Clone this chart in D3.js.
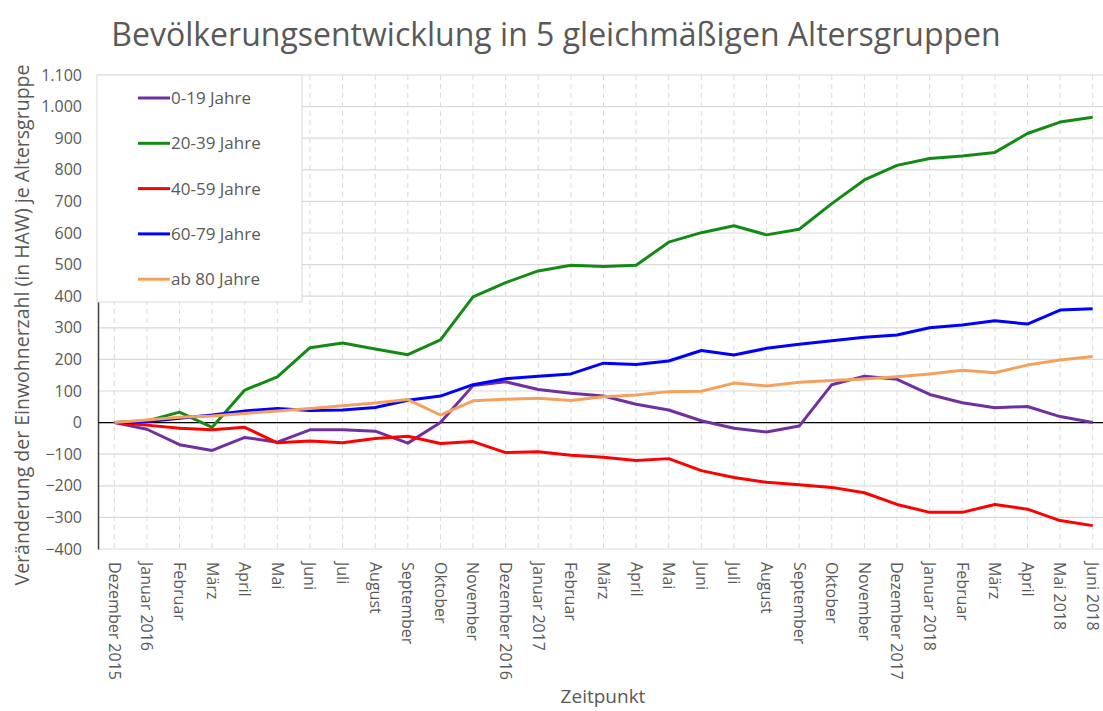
<!DOCTYPE html>
<html>
<head>
<meta charset="utf-8">
<script src="https://cdn.jsdelivr.net/npm/d3@7"></script>
<style>
  body { margin: 0; background: #fff; }
  svg { font-family: "Open Sans", sans-serif; }
  .tick text { fill: #595959; }
</style>
</head>
<body>
<div id="chart"></div>
<script>
/* Bevölkerungsentwicklung Liniendiagramm */

const months = ["Dezember 2015", "Januar 2016", "Februar", "März", "April", "Mai", "Juni", "Juli",
  "August", "September", "Oktober", "November", "Dezember 2016", "Januar 2017", "Februar", "März",
  "April", "Mai", "Juni", "Juli", "August", "September", "Oktober", "November", "Dezember 2017",
  "Januar 2018", "Februar", "März", "April", "Mai 2018", "Juni 2018"];

const groups = ["0-19 Jahre", "20-39 Jahre", "40-59 Jahre", "60-79 Jahre", "ab 80 Jahre"];
const colors = ["#7030a0", "#138a13", "#ff0000", "#0000ff", "#f4a15d"];

const age0_19 = [0, -21, -70, -88, -47, -62, -23, -23, -27, -65, 0, 117, 129, 105, 93, 84,
  58, 40, 6, -18, -30, -11, 120, 147, 137, 89, 63, 47, 51, 19, 0];
const age20_39 = [0, 5, 33, -15, 103, 145, 237, 252, 233, 215, 262, 398, 443, 480, 498, 494,
  498, 571, 601, 623, 594, 612, 693, 768, 814, 836, 844, 855, 915, 951, 966];
const age40_59 = [0, -8, -18, -23, -15, -64, -58, -64, -50, -43, -66, -60, -95, -92, -103, -110,
  -120, -114, -152, -174, -189, -197, -205, -222, -259, -284, -284, -259, -274, -310, -326];
const age60_79 = [0, 3, 14, 24, 37, 45, 38, 40, 48, 71, 84, 120, 139, 147, 154, 188,
  184, 195, 228, 214, 235, 248, 259, 270, 277, 300, 309, 322, 312, 356, 360];
const age80 = [0, 8, 17, 21, 29, 37, 45, 53, 62, 73, 24, 69, 74, 77, 70, 82,
  87, 98, 99, 125, 116, 128, 133, 138, 145, 154, 166, 158, 182, 198, 209];

const yTicks = d3.range(-400, 1101, 100);

const series = [age0_19, age20_39, age40_59, age60_79, age80];

const width = 1103, height = 711,
    margin = ({ top: 75, right: 0, bottom: 162, left: 98 });

const svg = d3.select("#chart")
    .append("svg")
    .attr("width", width)
    .attr("height", height);

let x = d3.scalePoint()
    .domain(d3.range(months.length))
    .range([margin.left, 1109])
    .padding(0.5);

let y = d3.scaleLinear()
    .domain([-400, 1100])
    .range([height - margin.bottom, margin.top]);

/* Gitterlinien */
svg.append("g")
    .selectAll("line")
    .data(yTicks)
    .join("line")
    .attr("x1", margin.left)
    .attr("x2", width)
    .attr("y1", d => y(d))
    .attr("y2", d => y(d))
    .attr("stroke", "#d9d9d9")
    .attr("stroke-width", 1.2);

svg.append("g")
    .selectAll("line")
    .data(d3.range(months.length))
    .join("line")
    .attr("x1", d => x(d))
    .attr("x2", d => x(d))
    .attr("y1", y(1100))
    .attr("y2", y(-400))
    .attr("stroke", "#dadada")
    .attr("stroke-dasharray", "5,4");

/* Y-Achse */
const yAxis = svg.append("g")
    .attr("transform", `translate(${margin.left},0)`)
    .call(d3.axisLeft(y)
      .tickValues(yTicks)
      .tickSize(0)
      .tickPadding(16)
      .tickFormat(d => d3.format(",")(d).replace(/,/g, ".")));
yAxis.select(".domain").attr("stroke", "#404040").attr("stroke-width", 1.5);
yAxis.selectAll(".tick text").attr("font-size", 16).attr("font-family", "Open Sans");

/* Nulllinie */
svg.append("line")
    .attr("x1", margin.left)
    .attr("x2", width)
    .attr("y1", y(0))
    .attr("y2", y(0))
    .attr("stroke", "#000")
    .attr("stroke-width", 1.2);

/* X-Achse Beschriftung */
svg.append("g")
    .selectAll("text")
    .data(months)
    .join("text")
    .attr("transform", (d, i) => `translate(${x(i)},562) rotate(90)`)
    .attr("dy", "0.35em")
    .attr("font-size", 16)
    .attr("fill", "#595959")
    .text(d => d);

/* Linien */
let line = d3.line()
    .x((d, i) => x(i))
    .y(d => y(d));

svg.append("g")
    .selectAll("path")
    .data(series)
    .join("path")
    .attr("d", line)
    .attr("fill", "none")
    .attr("stroke", (d, i) => colors[i])
    .attr("stroke-width", 3)
    .attr("stroke-linejoin", "round");

/* Legende */
const legend = svg.append("g");
legend.append("rect")
    .attr("x", 97)
    .attr("y", 75)
    .attr("width", 205)
    .attr("height", 227)
    .attr("fill", "#fff")
    .attr("stroke", "#d9d9d9");

const items = legend.selectAll("g")
    .data(groups)
    .join("g")
    .attr("transform", (d, i) => `translate(0,${98 + i * 45.3})`);
items.append("line")
    .attr("x1", 138)
    .attr("x2", 170)
    .attr("stroke", (d, i) => colors[i])
    .attr("stroke-width", 3);
items.append("text")
    .attr("x", 171)
    .attr("dy", "0.35em")
    .attr("font-size", 17)
    .attr("fill", "#595959")
    .text(d => d);

/* Titel und Achsentitel */
svg.append("text")
    .attr("x", 556)
    .attr("y", 46)
    .attr("text-anchor", "middle")
    .attr("font-size", 32)
    .attr("fill", "#595959")
    .text("Bevölkerungsentwicklung in 5 gleichmäßigen Altersgruppen");

svg.append("text")
    .attr("transform", `translate(29,325) rotate(-90)`)
    .attr("text-anchor", "middle")
    .attr("font-size", 19.5)
    .attr("fill", "#595959")
    .text("Veränderung der Einwohnerzahl (in HAW) je Altersgruppe");

svg.append("text")
    .attr("x", 603)
    .attr("y", 703)
    .attr("text-anchor", "middle")
    .attr("font-size", 19)
    .attr("fill", "#595959")
    .text("Zeitpunkt");
</script>
</body>
</html>
